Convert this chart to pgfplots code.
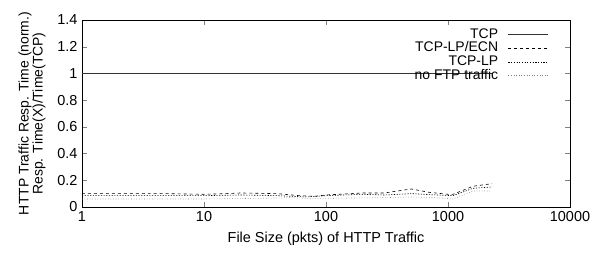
\documentclass[border=0pt]{standalone}
\usepackage{fontspec}
\setmainfont{Liberation Sans}
\usepackage{pgfplots}
\pgfplotsset{compat=1.18}
\begin{document}
\begin{tikzpicture}
\begin{axis}[
  name=ax,
  xmode=log, log basis x=10,
  width=488bp, height=187bp, scale only axis,
  xmin=1, xmax=10000, ymin=0, ymax=1.4,
  xtick={1,10,100,1000,10000},
  xticklabels={1,10,100,1000,10000},
  ytick={0,0.2,0.4,0.6,0.8,1,1.2,1.4},
  yticklabels={0,0.2,0.4,0.6,0.8,1,1.2,1.4},
  tick pos=both, tick align=inside,
  major tick length=5bp, minor tick length=3bp,
  xlabel={File Size (pkts) of HTTP Traffic},
  ylabel={HTTP Traffic Resp. Time (norm.)\\Resp. Time(X)/Time(TCP)},
  ylabel style={align=center, font=\fontsize{14}{12.5}\selectfont, yshift=5bp},
  xlabel style={font=\fontsize{14.5}{15}\selectfont, yshift=-3bp},
  tick label style={font=\fontsize{14.5}{15}\selectfont},
  xticklabel style={yshift=-1bp},
  yticklabel style={xshift=-1bp},
  axis line style={line width=0.9pt},
  legend style={draw=none, fill=none, at={(1,1)}, anchor=north east, xshift=-18bp, yshift=-6bp,
    font=\fontsize{14}{14}\selectfont, row sep=0.7bp,
    nodes={inner sep=0pt, text height=10bp, text depth=3bp},
    /tikz/every odd column/.append style={column sep=10bp}},
  legend cell align=right,
  legend plot pos=right,
  legend image code/.code={\draw[#1] (0bp,0bp) -- (40bp,0bp);},
]
\addplot[gray!40!black, line width=0.7pt] coordinates {(1,1) (2300,1)};
\addlegendentry{TCP}
\addplot[black, dashed, line width=0.6pt] coordinates {
(1,0.10) (5,0.10) (10,0.095) (15,0.10) (20,0.105) (40,0.10) (60,0.085) (80,0.08) (100,0.09) (200,0.105) (300,0.105) (500,0.135) (700,0.11) (1000,0.095) (1100,0.095) (1600,0.155) (2300,0.175)};
\addlegendentry{TCP-LP/ECN}
\addplot[black, dash pattern=on 1.2pt off 1.5pt, line width=0.6pt] coordinates {
(1,0.085) (10,0.085) (20,0.09) (40,0.085) (70,0.075) (100,0.085) (200,0.095) (300,0.09) (500,0.10) (800,0.09) (1100,0.085) (1600,0.14) (2300,0.15)};
\addlegendentry{TCP-LP}
\addplot[gray, dotted, line width=0.6pt] coordinates {
(1,0.06) (10,0.06) (30,0.065) (50,0.07) (70,0.065) (100,0.065) (300,0.07) (500,0.075) (800,0.07) (1100,0.06) (1600,0.12) (2300,0.12)};
\addlegendentry{no FTP traffic}
\end{axis}
\pgfresetboundingbox
\useasboundingbox ([xshift=-82bp,yshift=-47bp]ax.south west) rectangle ([xshift=20bp,yshift=20bp]ax.north east);
\end{tikzpicture}
\end{document}
